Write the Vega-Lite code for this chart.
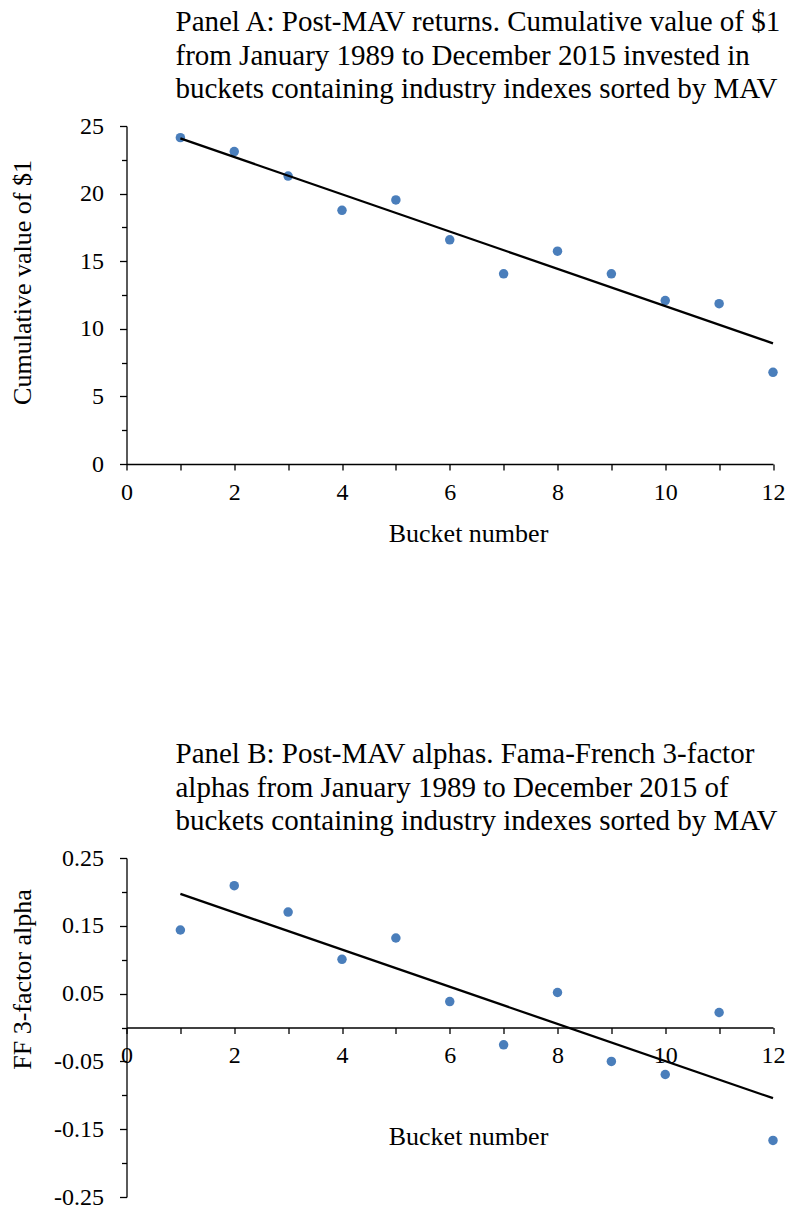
{
  "$schema": "https://vega.github.io/schema/vega-lite/v6.json",
  "background": "white",
  "padding": {"left": 9.5, "top": 8, "right": 5, "bottom": 0},
  "spacing": 194,
  "config": {
    "font": "Liberation Serif",
    "view": {"stroke": null},
    "axis": {
      "domainColor": "black", "tickColor": "black", "labelColor": "black", "titleColor": "black",
      "labelFont": "Liberation Serif", "titleFont": "Liberation Serif",
      "labelFontSize": 24, "titleFontSize": 26, "titleFontWeight": "normal",
      "grid": false, "domainWidth": 1.3, "tickWidth": 1.3,
      "labelFlush": false, "labelOverlap": false, "labelBound": false
    },
    "title": {
      "font": "Liberation Serif", "fontSize": 29, "fontWeight": "normal", "color": "black",
      "anchor": "start", "frame": "group", "lineHeight": 33.5, "dx": 49, "baseline": "bottom", "offset": 10
    }
  },
  "datasets": {
    "panelA": [
      {"bucket": 1, "value": 24.14},
      {"bucket": 2, "value": 23.11},
      {"bucket": 3, "value": 21.3},
      {"bucket": 4, "value": 18.76},
      {"bucket": 5, "value": 19.53},
      {"bucket": 6, "value": 16.58},
      {"bucket": 7, "value": 14.07},
      {"bucket": 8, "value": 15.74},
      {"bucket": 9, "value": 14.07},
      {"bucket": 10, "value": 12.09},
      {"bucket": 11, "value": 11.86},
      {"bucket": 12, "value": 6.78}
    ],
    "panelB": [
      {"bucket": 1, "alpha": 0.1438},
      {"bucket": 2, "alpha": 0.2092},
      {"bucket": 3, "alpha": 0.1703},
      {"bucket": 4, "alpha": 0.1006},
      {"bucket": 5, "alpha": 0.132},
      {"bucket": 6, "alpha": 0.0383},
      {"bucket": 7, "alpha": -0.0256},
      {"bucket": 8, "alpha": 0.0516},
      {"bucket": 9, "alpha": -0.0501},
      {"bucket": 10, "alpha": -0.0693},
      {"bucket": 11, "alpha": 0.0221},
      {"bucket": 12, "alpha": -0.1665}
    ]
  },
  "vconcat": [
    {
      "width": 646.5,
      "height": 338,
      "title": {"text": ["Panel A: Post-MAV returns. Cumulative value of $1", "from January 1989 to December 2015 invested in", "buckets containing industry indexes sorted by MAV"]},
      "data": {"name": "panelA"},
      "encoding": {
        "x": {
          "field": "bucket", "type": "quantitative",
          "scale": {"domain": [0, 12], "nice": false, "zero": false},
          "axis": {
            "values": [0, 1, 2, 3, 4, 5, 6, 7, 8, 9, 10, 11, 12],
            "labelExpr": "datum.value % 2 === 0 ? datum.label : ''",
            "tickSize": 6, "labelPadding": 10,
            "title": "Bucket number", "titlePadding": 16, "titleX": 341.5
          }
        },
        "y": {
          "field": "value", "type": "quantitative",
          "scale": {"domain": [0, 25], "nice": false},
          "axis": {
            "values": [0, 2.5, 5, 7.5, 10, 12.5, 15, 17.5, 20, 22.5, 25],
            "labelExpr": "datum.value % 5 === 0 ? datum.label : ''",
            "tickSize": {"condition": {"test": "datum.value % 5 !== 0", "value": 5}, "value": 7},
            "labelPadding": 16,
            "title": "Cumulative value of $1", "titlePadding": 44, "titleY": 156
          }
        }
      },
      "layer": [
        {"mark": {"type": "circle", "size": 90, "color": "#4a7ebb", "opacity": 1}},
        {
          "transform": [{"regression": "value", "on": "bucket"}],
          "mark": {"type": "line", "color": "black", "strokeWidth": 2.3}
        }
      ]
    },
    {
      "width": 646.5,
      "height": 339,
      "title": {"text": ["Panel B: Post-MAV alphas. Fama-French 3-factor", "alphas from January 1989 to December 2015 of", "buckets containing industry indexes sorted by MAV"]},
      "data": {"name": "panelB"},
      "encoding": {
        "x": {
          "field": "bucket", "type": "quantitative",
          "scale": {"domain": [0, 12], "nice": false, "zero": false},
          "axis": {
            "values": [0, 1, 2, 3, 4, 5, 6, 7, 8, 9, 10, 11, 12],
            "labelExpr": "datum.value % 2 === 0 ? datum.label : ''",
            "offset": -169.5,
            "tickSize": 6, "labelPadding": 10,
            "title": "Bucket number", "titlePadding": 56, "titleX": 341.5
          }
        },
        "y": {
          "field": "alpha", "type": "quantitative",
          "scale": {"domain": [-0.25, 0.25], "nice": false, "zero": false},
          "axis": {
            "values": [-0.25, -0.2, -0.15, -0.1, -0.05, 0, 0.05, 0.1, 0.15, 0.2, 0.25],
            "labelExpr": "abs(round(datum.value * 100)) % 10 === 5 ? (datum.value < 0 ? '-' : '') + format(abs(datum.value), '.2f') : ''",
            "tickSize": {"condition": {"test": "abs(round(datum.value * 100)) % 10 !== 5", "value": 5}, "value": 7},
            "labelPadding": 16,
            "title": "FF 3-factor alpha", "titlePadding": 18, "titleY": 121
          }
        }
      },
      "layer": [
        {"mark": {"type": "circle", "size": 90, "color": "#4a7ebb", "opacity": 1}},
        {
          "transform": [{"regression": "alpha", "on": "bucket"}],
          "mark": {"type": "line", "color": "black", "strokeWidth": 2.3}
        }
      ]
    }
  ]
}
